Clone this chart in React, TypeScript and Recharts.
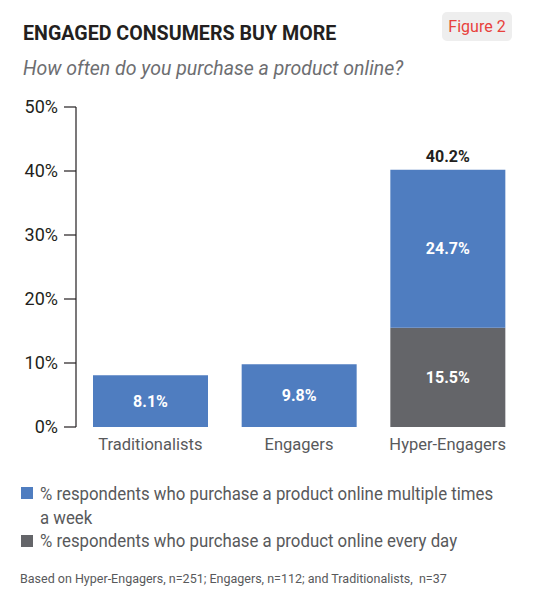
import React from "react";
import { BarChart, Bar, XAxis, YAxis, LabelList } from "recharts";

const categories = ["Traditionalists", "Engagers", "Hyper-Engagers"];
const weekly = [8.1, 9.8, 24.7];
const daily = [null, null, 15.5];
const totals = [null, null, 40.2];
const yTicks = [0, 10, 20, 30, 40, 50];
const frameTicks = [0, 1, 2, 3];

const rows = categories.map((name, i) => ({
  name,
  weekly: weekly[i],
  daily: daily[i],
  total: totals[i],
}));

const BLUE = "#4f7dc0";
const GREY = "#646569";
const INK = "#231f20";
const SOFT = "#58595b";
const FONT = "Roboto, 'Noto Sans', sans-serif";

const pct = (v: any) => (v == null || v === "" ? "" : `${v}%`);

const squeeze = (k: number): React.CSSProperties => ({
  display: "inline-block",
  transform: `scaleX(${k})`,
  transformOrigin: "left center",
  whiteSpace: "nowrap",
});

export default function App() {
  return (
    <div
      style={{
        position: "fixed",
        left: 0,
        top: 0,
        width: 540,
        height: 598,
        background: "#fff",
        fontFamily: FONT,
      }}
    >
      <div
        style={{
          position: "absolute",
          left: 23,
          top: 20.5,
          fontSize: 21,
          fontWeight: 700,
          color: INK,
        }}
      >
        <span style={squeeze(0.935)}>ENGAGED CONSUMERS BUY MORE</span>
      </div>
      <div
        style={{
          position: "absolute",
          left: 442,
          top: 12,
          width: 70,
          height: 29,
          borderRadius: 5,
          background: "#eeeeee",
          color: "#e8413c",
          fontSize: 16,
          lineHeight: "29px",
          textAlign: "center",
        }}
      >
        Figure 2
      </div>
      <div
        style={{
          position: "absolute",
          left: 23,
          top: 57,
          fontSize: 19.5,
          fontStyle: "italic",
          color: "#6d6e71",
          whiteSpace: "nowrap",
        }}
      >
        How often do you purchase a product online?
      </div>

      <BarChart
        width={540}
        height={598}
        data={rows}
        margin={{ top: 107, right: 18, bottom: 141, left: 0 }}
        style={{ position: "absolute", left: 0, top: 0 }}
      >
        <XAxis
          xAxisId="frame"
          type="number"
          domain={[0, 3]}
          ticks={frameTicks}
          tickFormatter={() => ""}
          tickSize={13}
          height={0}
          axisLine={{ stroke: INK, strokeWidth: 1.2 }}
          tickLine={{ stroke: INK, strokeWidth: 1.2 }}
        />
        <XAxis
          xAxisId="cat"
          dataKey="name"
          height={30}
          axisLine={false}
          tickLine={false}
          tickSize={0}
          tickMargin={11}
          tick={{ fill: SOFT, fontSize: 16.5, fontFamily: FONT }}
        />
        <YAxis
          width={76}
          domain={[0, 50]}
          ticks={yTicks}
          tickFormatter={pct}
          tickSize={12}
          tickMargin={6}
          axisLine={{ stroke: INK, strokeWidth: 1.2 }}
          tickLine={{ stroke: INK, strokeWidth: 1.2 }}
          tick={{ fill: INK, fontSize: 18, fontFamily: FONT }}
        />
        <Bar
          xAxisId="cat"
          dataKey="daily"
          stackId="s"
          fill={GREY}
          barSize={115}
          isAnimationActive={false}
        >
          <LabelList
            dataKey="daily"
            position="center"
            formatter={pct}
            fill="#fff"
            fontSize={16}
            fontWeight={700}
            fontFamily={FONT}
          />
        </Bar>
        <Bar
          xAxisId="cat"
          dataKey="weekly"
          stackId="s"
          fill={BLUE}
          barSize={115}
          isAnimationActive={false}
        >
          <LabelList
            dataKey="weekly"
            position="center"
            formatter={pct}
            fill="#fff"
            fontSize={16}
            fontWeight={700}
            fontFamily={FONT}
          />
          <LabelList
            dataKey="total"
            position="top"
            offset={8}
            formatter={pct}
            fill={INK}
            fontSize={16}
            fontWeight={700}
            fontFamily={FONT}
          />
        </Bar>
      </BarChart>

      <div style={{ position: "absolute", left: 21, top: 487, width: 12, height: 12, background: BLUE }} />
      <div style={{ position: "absolute", left: 21, top: 535, width: 12, height: 12, background: GREY }} />
      <div
        style={{
          position: "absolute",
          left: 40,
          top: 482,
          fontSize: 18,
          lineHeight: "23.5px",
          color: SOFT,
        }}
      >
        <div>
          <span style={squeeze(0.933)}>% respondents who purchase a product online multiple times</span>
        </div>
        <div>
          <span style={squeeze(0.933)}>a week</span>
        </div>
        <div>
          <span style={squeeze(0.933)}>% respondents who purchase a product online every day</span>
        </div>
      </div>

      <div
        style={{
          position: "absolute",
          left: 20,
          top: 570.5,
          fontSize: 12.5,
          color: SOFT,
          whiteSpace: "pre",
        }}
      >
        Based on Hyper-Engagers, n=251; Engagers, n=112; and Traditionalists,  n=37
      </div>
    </div>
  );
}
